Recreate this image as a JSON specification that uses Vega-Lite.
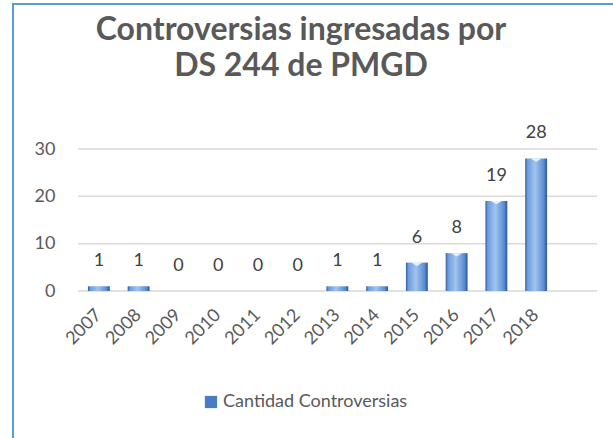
{
  "$schema": "https://vega.github.io/schema/vega-lite/v6.json",
  "width": 620,
  "height": 440,
  "autosize": {"type": "none"},
  "padding": {"left": 13, "top": 4, "right": 0, "bottom": 0},
  "background": "white",
  "config": {
    "view": {"stroke": "#5b9bd5", "strokeWidth": 2},
    "font": "Lato"
  },
  "title": {
    "text": ["Controversias ingresadas por", "DS 244 de PMGD"],
    "font": "Lato",
    "fontSize": 32,
    "fontWeight": "bold",
    "color": "#595959",
    "anchor": "middle",
    "frame": "group",
    "lineHeight": 36,
    "offset": 0,
    "dx": -22,
    "dy": 79
  },
  "data": {
    "values": [
      {"year": "2007", "value": 1},
      {"year": "2008", "value": 1},
      {"year": "2009", "value": 0},
      {"year": "2010", "value": 0},
      {"year": "2011", "value": 0},
      {"year": "2012", "value": 0},
      {"year": "2013", "value": 1},
      {"year": "2014", "value": 1},
      {"year": "2015", "value": 6},
      {"year": "2016", "value": 8},
      {"year": "2017", "value": 19},
      {"year": "2018", "value": 28}
    ]
  },
  "layer": [
    {
      "data": {"values": [{"v": 0}, {"v": 10}, {"v": 20}, {"v": 30}]},
      "mark": {"type": "rule", "color": "#d9d9d9", "strokeWidth": 1.5},
      "encoding": {
        "y": {"field": "v", "type": "quantitative", "title": null,
              "scale": {"domain": [0, 30], "range": [287, 145], "nice": false, "zero": true},
              "axis": {"values": [0, 10, 20, 30], "title": null, "domain": false, "ticks": false, "grid": false, "offset": -46, "labelPadding": 4, "labelFontSize": 18, "labelColor": "#595959", "labelFont": "Lato"}},
        "x": {"datum": 0, "type": "quantitative", "scale": {"domain": [0, 1], "range": [65, 584]}, "axis": null},
        "x2": {"datum": 1}
      }
    },
    {
      "layer": [
        {
          "mark": {
            "type": "bar",
            "fill": {
              "gradient": "linear", "x1": 0, "x2": 1, "y1": 0, "y2": 0,
              "stops": [
                {"offset": 0, "color": "#2d5a96"},
                {"offset": 0.1, "color": "#6a9ade"},
                {"offset": 0.45, "color": "#a2c4f0"},
                {"offset": 0.85, "color": "#5b8dd3"},
                {"offset": 1, "color": "#2a5590"}
              ]
            }
          },
          "encoding": {
            "x": {"field": "year", "type": "nominal", "sort": null,
                  "scale": {"range": [66, 543], "paddingInner": 0.45, "paddingOuter": 0.225},
                  "axis": {"title": null, "domain": false, "ticks": false, "grid": false, "offset": -153, "labelAngle": -45, "labelAlign": "right", "labelBaseline": "middle", "labelPadding": 21, "labelFontSize": 18, "labelColor": "#595959", "labelFont": "Lato"}},
            "y": {"field": "value", "type": "quantitative", "title": null},
            "color": {"datum": "Cantidad Controversias", "type": "nominal",
                      "scale": {"range": ["#4a7cc4"]},
                      "legend": {"title": null, "orient": "none", "legendX": 189, "legendY": 389, "symbolType": "square", "symbolSize": 150, "symbolStrokeWidth": 0, "labelFontSize": 18, "labelLimit": 400, "labelColor": "#595959", "labelFont": "Lato", "labelOffset": 3}}
          }
        },
        {
          "transform": [{"filter": "datum.value >= 6"}],
          "mark": {"type": "point", "filled": true, "shape": "M-1,0L1,0L0,0.6Z", "size": 121, "color": "#e8f1fc", "opacity": 1, "strokeWidth": 0},
          "encoding": {
            "x": {"field": "year", "type": "nominal", "sort": null},
            "y": {"field": "value", "type": "quantitative", "title": null}
          }
        },
        {
          "mark": {"type": "text", "fontSize": 18, "color": "#404040", "baseline": "middle", "dy": -25, "font": "Lato"},
          "encoding": {
            "x": {"field": "year", "type": "nominal", "sort": null},
            "y": {"field": "value", "type": "quantitative", "title": null},
            "text": {"field": "value", "type": "quantitative"}
          }
        }
      ]
    }
  ],
  "resolve": {"scale": {"x": "independent"}}
}
